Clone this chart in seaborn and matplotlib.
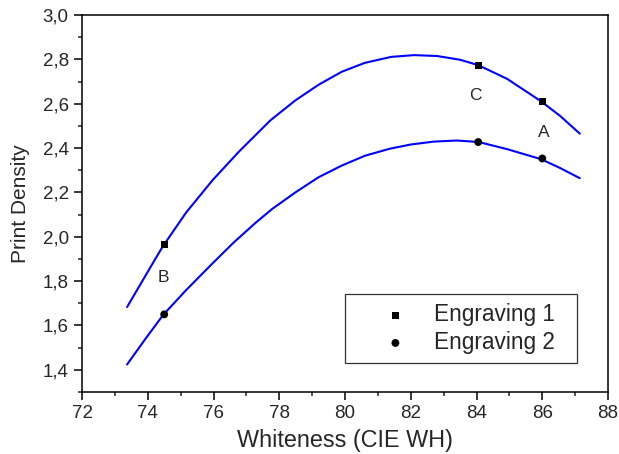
import numpy as np
import pandas as pd
import seaborn as sns
import matplotlib.pyplot as plt
from matplotlib.ticker import MultipleLocator, FixedLocator

# measured points
pt_x = [74.5, 84.05, 86.0]
eng1_y = [1.963, 2.774, 2.611]
eng2_y = [1.65, 2.427, 2.353]
pt_labels = ["B", "C", "A"]
lab_x = [74.48, 83.96, 86.05]
lab_y = [1.814, 2.639, 2.472]

# fitted curves
fit1_x = [73.37, 74.15, 74.45, 75.17, 75.97, 76.78, 77.73, 78.49, 79.19, 79.9,
          80.6, 81.4, 82.1, 82.8, 83.5, 84.05, 84.93, 85.96, 86.54, 87.14]
fit1_y = [1.683, 1.88, 1.955, 2.11, 2.255, 2.385, 2.525, 2.615, 2.685, 2.744,
          2.784, 2.811, 2.819, 2.815, 2.798, 2.774, 2.712, 2.611, 2.545, 2.465]
fit2_x = [73.37, 73.95, 74.47, 75.17, 75.97, 76.62, 77.28, 77.78, 78.49, 79.19,
          79.9, 80.6, 81.36, 82.0, 82.7, 83.4, 84.07, 84.93, 85.96, 86.54, 87.14]
fit2_y = [1.424, 1.544, 1.648, 1.76, 1.88, 1.975, 2.063, 2.125, 2.2, 2.268,
          2.321, 2.365, 2.397, 2.416, 2.429, 2.434, 2.427, 2.395, 2.35, 2.31, 2.264]

x_ticks = [72, 74, 76, 78, 80, 82, 84, 86, 88]
y_ticks = [1.4, 1.6, 1.8, 2.0, 2.2, 2.4, 2.6, 2.8, 3.0]
y_ticklabels = ["1,4", "1,6", "1,8", "2,0", "2,2", "2,4", "2,6", "2,8", "3,0"]


def main():
    sns.set_style("ticks")
    plt.rcParams["font.family"] = ["Liberation Sans", "DejaVu Sans"]

    fig = plt.figure(figsize=(6.19, 4.54), dpi=100)
    ax = fig.add_axes([0.1325, 0.1366, 0.8498, 0.8304])

    curves = pd.concat([
        pd.DataFrame({"x": fit1_x, "y": fit1_y, "s": "fit1"}),
        pd.DataFrame({"x": fit2_x, "y": fit2_y, "s": "fit2"}),
    ])
    sns.lineplot(data=curves, x="x", y="y", units="s", estimator=None, sort=False,
                 color="#0000ff", lw=1.5, legend=False, ax=ax)

    sns.scatterplot(x=pt_x, y=eng1_y, marker="s", s=26, color="black",
                    edgecolor="none", zorder=3, ax=ax, label="Engraving 1  ")
    sns.scatterplot(x=pt_x, y=eng2_y, marker="o", s=32, color="black",
                    edgecolor="none", zorder=3, ax=ax, label="Engraving 2  ")

    for t, x, y in zip(pt_labels, lab_x, lab_y):
        ax.text(x, y, t, fontsize=12.5, ha="center", va="center")

    ax.set_xlim(72, 88)
    ax.set_ylim(1.3, 3.0)
    ax.xaxis.set_major_locator(FixedLocator(x_ticks))
    ax.xaxis.set_minor_locator(MultipleLocator(1))
    ax.yaxis.set_major_locator(FixedLocator(y_ticks))
    ax.set_yticklabels(y_ticklabels)
    ax.yaxis.set_minor_locator(MultipleLocator(0.1))
    ax.tick_params(which="major", direction="out", length=6, width=1.1,
                   labelsize=13.5, color="black", top=False, right=False)
    ax.tick_params(which="minor", direction="out", length=3, width=1.1,
                   top=False, right=False)
    for sp in ax.spines.values():
        sp.set_visible(True)
        sp.set_color("black")
        sp.set_linewidth(1.1)

    ax.set_xlabel("Whiteness (CIE WH)", fontsize=16.8, labelpad=5)
    ax.set_ylabel("Print Density", fontsize=15, labelpad=9)

    leg = ax.legend(loc="lower right", bbox_to_anchor=(0.941, 0.077),
                    borderaxespad=0, fontsize=16.3, frameon=True, fancybox=False,
                    edgecolor="black", handlelength=3.65, handletextpad=-0.1,
                    borderpad=0.4, labelspacing=0.2)
    leg.get_frame().set_linewidth(0.9)

    fig.savefig("out.png", dpi=100)
    plt.close(fig)


if __name__ == "__main__":
    main()
